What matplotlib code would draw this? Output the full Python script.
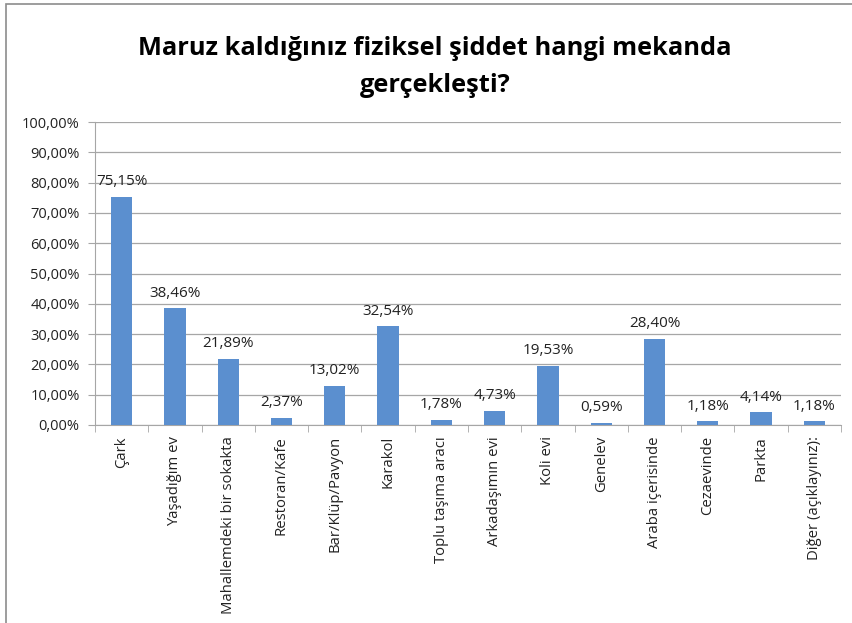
import matplotlib.pyplot as plt
from matplotlib.patches import Rectangle

plt.rcParams['font.family'] = ['Open Sans', 'DejaVu Sans']

# Data
categories = ["Çark", "Yaşadığım ev", "Mahallemdeki bir sokakta", "Restoran/Kafe",
              "Bar/Klüp/Pavyon", "Karakol", "Toplu taşıma aracı", "Arkadaşımın evi",
              "Koli evi", "Genelev", "Araba içerisinde", "Cezaevinde", "Parkta",
              "Diğer (açıklayınız):"]
values = [75.15, 38.46, 21.89, 2.37, 13.02, 32.54, 1.78, 4.73, 19.53, 0.59,
          28.40, 1.18, 4.14, 1.18]
yticks = list(range(0, 101, 10))
title = "Maruz kaldığınız fiziksel şiddet hangi mekanda\ngerçekleşti?"

fig = plt.figure(figsize=(8.52, 6.23), dpi=100)
ax = fig.add_axes([95 / 852, 1 - 425 / 623, 746 / 852, 303 / 623])

x = list(range(len(categories)))
ax.bar(x, values, width=0.4, color="#5b8fcf", zorder=3)

for xi, v in zip(x, values):
    label = f"{v:.2f}%".replace(".", ",")
    ax.text(xi, v + 2.6, label, ha="center", va="bottom", fontsize=11,
            color="#222222", zorder=4)

ax.set_xlim(-0.5, len(categories) - 0.5)
ax.set_ylim(0, 100)
ax.set_yticks(yticks)
ax.set_yticklabels([f"{t},00%" for t in yticks], fontsize=10.5, color="#222222")
ax.yaxis.grid(True, color="#a6a6a6", linewidth=0.9, zorder=0)
ax.tick_params(axis="y", length=5, color="#a6a6a6", pad=6)

# category labels, ticks between categories
ax.set_xticks(x)
ax.set_xticklabels(categories, rotation=90, fontsize=10.7, color="#222222")
ax.tick_params(axis="x", length=0, pad=8)
ax.set_xticks([i - 0.5 for i in range(len(categories) + 1)], minor=True)
ax.tick_params(axis="x", which="minor", length=5, color="#a6a6a6")

for side in ["top", "right"]:
    ax.spines[side].set_visible(False)
ax.spines["left"].set_color("#a6a6a6")
ax.spines["bottom"].set_color("#a6a6a6")

fig.text(435 / 852, 1 - 67 / 623, title, ha="center", va="center",
         fontsize=18.3, fontweight="bold", linespacing=1.6)

# chart frame
fig.patches.append(Rectangle((6 / 852, -0.1), 1.0, 1 - 4 / 623 + 0.1,
                             transform=fig.transFigure, fill=False,
                             edgecolor="#8c8c8c", linewidth=1.2))

fig.savefig("out.png", dpi=100)
